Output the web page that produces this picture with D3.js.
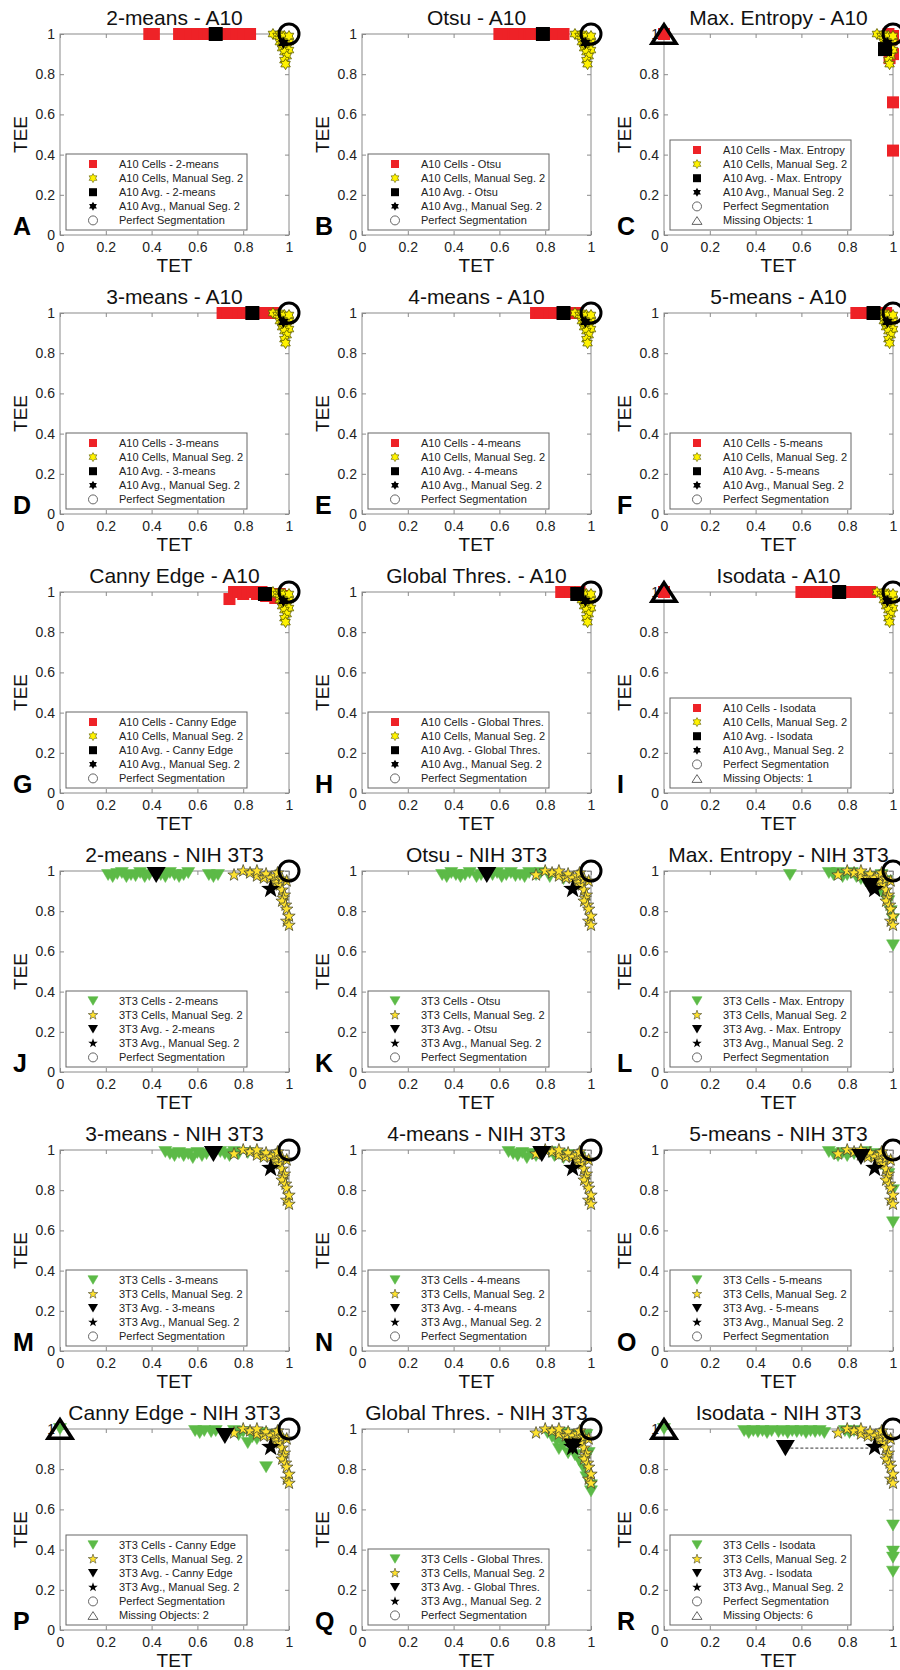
<!DOCTYPE html>
<html>
<head>
<meta charset="utf-8">
<script src="https://d3js.org/d3.v7.min.js"></script>
<style>
  body { margin: 0; background: #fff; }
  svg { font-family: "Liberation Sans", Arial, sans-serif; }
</style>
</head>
<body>
<script>

// ---------- data ----------
var methods = ["2-means", "Otsu", "Max. Entropy", "3-means", "4-means", "5-means", "Canny Edge", "Global Thres.", "Isodata"];
var letters = ["A","B","C","D","E","F","G","H","I","J","K","L","M","N","O","P","Q","R"];
var ticks = [0, 0.2, 0.4, 0.6, 0.8, 1];
var tickLabels = ["0", "0.2", "0.4", "0.6", "0.8", "1"];

// manual segmentation 2 (same in every panel of a cell line)
var a10Manual = [[0.93,1.0],[0.95,0.99],[0.96,1.0],[0.97,0.98],[0.98,0.99],[0.99,0.97],[0.96,0.96],[0.98,0.95],[1.0,0.96],
  [0.97,0.93],[0.99,0.93],[1.0,0.92],[0.98,0.91],[0.99,0.89],[0.98,0.87],[0.985,0.85],[1.0,0.99],[0.97,0.95]];
var a10ManualAvg = [0.975, 0.955];

var t3Manual = [[0.76,0.98],[0.80,1.0],[0.83,0.99],[0.86,0.975],[0.86,1.0],[0.89,0.965],[0.9,0.985],[0.92,0.965],[0.94,0.95],
  [0.945,0.94],[0.96,0.93],[0.97,0.905],[0.98,0.88],[0.975,0.865],[0.97,0.85],[0.985,0.83],[0.99,0.81],[0.99,0.75],
  [1.0,0.775],[1.0,0.73],[0.94,0.975],[0.97,0.96],[0.99,0.95],[0.95,0.99]];
var t3ManualAvg = [0.92, 0.91];

// A10 cells, one array per method
var a10Cells2means = [[0.39,1],[0.41,1],[0.52,1],[0.54,1],[0.55,1],[0.57,1],[0.6,1],[0.62,1],[0.63,1],[0.65,1],[0.67,1],
  [0.7,1],[0.71,1],[0.73,1],[0.75,1],[0.77,1],[0.79,1],[0.8,1],[0.83,1]];
var a10CellsOtsu = [[0.6,1],[0.62,1],[0.64,1],[0.66,1],[0.67,1],[0.69,1],[0.71,1],[0.73,1],[0.74,1],[0.76,1],[0.78,1],
  [0.8,1],[0.82,1],[0.83,1],[0.85,1],[0.88,1]];
var a10CellsMaxEnt = [[0,1],[0.98,1],[1,0.99],[0.99,0.97],[0.97,0.95],[0.985,0.88],[1,0.9],[1,0.66],[1,0.42]];
var a10Cells3means = [[0.71,1],[0.73,1],[0.78,1],[0.8,1],[0.82,1],[0.86,1],[0.88,1],[0.9,1],[0.93,1]];
var a10Cells4means = [[0.76,1],[0.78,1],[0.82,1],[0.84,1],[0.9,1],[0.92,1],[0.94,1]];
var a10Cells5means = [[0.84,1],[0.86,1],[0.88,1],[0.9,1],[0.95,1],[0.97,1]];
var a10CellsCanny = [[0.74,0.965],[0.76,1],[0.78,1],[0.8,0.99],[0.82,1],[0.84,1],[0.86,0.99],[0.88,1],[0.9,0.98],
  [0.92,0.99],[0.94,0.97],[0.96,0.99],[0.98,0.98]];
var a10CellsGlobal = [[0.87,1],[0.89,1],[0.91,1],[0.93,1],[0.95,1]];
var a10CellsIsodata = [[0,1],[0.6,1],[0.62,1],[0.64,1],[0.67,1],[0.69,1],[0.71,1],[0.73,1],[0.75,1],[0.78,1],[0.8,1],
  [0.82,1],[0.84,1],[0.86,1],[0.88,1],[0.9,1]];
var a10Avg = [[0.68,1],[0.79,1],[0.965,0.925],[0.84,1],[0.88,1],[0.915,1],[0.895,0.99],[0.94,0.99],[0.765,1]];
var a10Missing = [0, 0, 1, 0, 0, 0, 0, 0, 1];

// NIH 3T3 cells, one array per method
var t3Cells2means = [[0.21,0.98],[0.23,0.97],[0.25,0.985],[0.27,0.99],[0.29,0.97],[0.31,0.98],[0.33,0.975],[0.35,0.99],
  [0.37,0.97],[0.39,0.98],[0.44,0.98],[0.46,0.97],[0.48,0.99],[0.5,0.98],[0.52,0.97],[0.54,0.98],[0.56,0.99],
  [0.65,0.98],[0.67,0.97],[0.69,0.98]];
var t3CellsOtsu = [[0.35,0.98],[0.37,0.97],[0.39,0.99],[0.41,0.98],[0.43,0.97],[0.45,0.98],[0.47,0.99],[0.5,0.97],
  [0.52,0.98],[0.57,0.98],[0.59,0.99],[0.61,0.97],[0.63,0.98],[0.65,0.99],[0.67,0.975],[0.69,0.98],[0.71,0.97],
  [0.73,0.99],[0.76,0.98],[0.78,0.99],[0.82,0.97],[0.88,0.96],[0.93,0.95]];
var t3CellsMaxEnt = [[0.55,0.98],[0.72,0.99],[0.74,0.98],[0.76,0.99],[0.78,0.97],[0.8,0.98],[0.82,0.99],[0.84,0.97],
  [0.86,0.96],[0.88,0.95],[0.9,0.97],[0.92,0.93],[0.94,0.9],[0.96,0.88],[0.98,0.85],[0.99,0.8],[1.0,0.76],[1.0,0.63],
  [0.97,0.95],[0.95,0.98]];
var t3Cells3means = [[0.46,0.99],[0.48,0.98],[0.5,0.97],[0.52,0.985],[0.54,0.97],[0.56,0.98],[0.58,0.96],[0.6,0.985],
  [0.62,0.97],[0.64,0.98],[0.7,0.99],[0.72,0.98],[0.74,0.97],[0.76,0.99],[0.78,0.98],[0.82,0.985],[0.88,0.97],[0.94,0.96]];
var t3Cells4means = [[0.64,0.99],[0.66,0.98],[0.68,0.97],[0.7,0.985],[0.72,0.96],[0.74,0.98],[0.76,0.97],[0.82,0.99],
  [0.84,0.97],[0.86,0.98],[0.88,0.96],[0.9,0.975],[0.95,0.96]];
var t3Cells5means = [[0.72,0.99],[0.74,0.98],[0.76,0.97],[0.78,0.985],[0.8,0.97],[0.83,0.98],[0.88,0.99],[0.9,0.97],
  [0.92,0.98],[0.95,0.93],[0.98,0.88],[1.0,0.8],[1.0,0.64]];
var t3CellsCanny = [[0,1],[0.59,0.99],[0.61,0.98],[0.63,0.99],[0.66,0.985],[0.68,0.99],[0.76,0.99],[0.78,0.97],
  [0.8,0.985],[0.82,0.93],[0.84,0.96],[0.86,0.95],[0.88,0.98],[0.9,0.81],[0.93,0.97],[0.95,0.95]];
var t3CellsGlobal = [[0.81,0.98],[0.83,0.96],[0.85,0.94],[0.86,0.9],[0.88,0.92],[0.88,0.98],[0.9,0.88],[0.91,0.95],
  [0.93,0.87],[0.94,0.97],[0.95,0.84],[0.96,0.93],[0.97,0.8],[0.98,0.76],[0.98,0.97],[0.99,0.88],[1.0,0.72],[1.0,0.69]];
var t3CellsIsodata = [[0,1],[0.35,0.99],[0.37,0.98],[0.39,0.99],[0.41,0.985],[0.43,0.99],[0.45,0.98],[0.47,0.99],
  [0.5,0.985],[0.52,0.99],[0.54,0.98],[0.56,0.99],[0.58,0.985],[0.6,0.99],[0.62,0.98],[0.64,0.99],[0.66,0.985],
  [0.68,0.99],[0.7,0.98],[0.79,0.99],[0.81,0.98],[0.83,0.99],[1.0,0.52],[1.0,0.39],[1.0,0.36],[1.0,0.29]];
var t3Avg = [[0.42,0.98],[0.545,0.98],[0.9,0.925],[0.67,0.98],[0.785,0.98],[0.86,0.965],[0.72,0.965],[0.92,0.913],[0.53,0.905]];
var t3Missing = [0, 0, 0, 0, 0, 0, 2, 0, 6];
var dashedPanels = [17];   // avg link drawn in panel R

var a10Cells = [a10Cells2means, a10CellsOtsu, a10CellsMaxEnt, a10Cells3means, a10Cells4means, a10Cells5means,
  a10CellsCanny, a10CellsGlobal, a10CellsIsodata];
var t3Cells = [t3Cells2means, t3CellsOtsu, t3CellsMaxEnt, t3Cells3means, t3Cells4means, t3Cells5means,
  t3CellsCanny, t3CellsGlobal, t3CellsIsodata];

// ---------- symbols ----------
var symSquare = { draw: function(ctx, s) { ctx.rect(-s/2, -s/2, s, s); } };
var symTriDown = { draw: function(ctx, s) {
  var h = s * 0.85;
  ctx.moveTo(-s/2, -h/2); ctx.lineTo(s/2, -h/2); ctx.lineTo(0, h/2); ctx.closePath();
} };
var symTriUp = { draw: function(ctx, s) {
  var h = s * 0.78;
  ctx.moveTo(-s/2, h/2); ctx.lineTo(s/2, h/2); ctx.lineTo(0, -h/2); ctx.closePath();
} };
var symCircle = { draw: function(ctx, s) { ctx.moveTo(s/2, 0); ctx.arc(0, 0, s/2, 0, 2 * Math.PI); } };
function starType(points, inner) {
  return { draw: function(ctx, s) {
    var r = s / 2;
    for (var i = 0; i < points * 2; i++) {
      var a = Math.PI * i / points - Math.PI / 2;
      var rr = i % 2 ? r * inner : r;
      if (i === 0) ctx.moveTo(rr * Math.cos(a), rr * Math.sin(a));
      else ctx.lineTo(rr * Math.cos(a), rr * Math.sin(a));
    }
    ctx.closePath();
  } };
}
var symStar = starType(5, 0.4);
var symHex = starType(6, 0.58);
function sym(type, size) { return d3.symbol().type(type).size(size)(); }

var RED = "#ee2227", GREEN = "#5cba47";

var styleA10 = {
  cell:   { d: sym(symSquare, 12), fill: RED, stroke: "none", sw: 0 },
  manual: { d: sym(symHex, 11), fill: "#fff200", stroke: "#5b5a00", sw: 0.8 },
  avg:    { d: sym(symSquare, 14), fill: "#000", stroke: "none", sw: 0 },
  mavg:   { d: sym(symHex, 12), fill: "#000", stroke: "none", sw: 0 },
  leg: [sym(symSquare, 8), sym(symHex, 9), sym(symSquare, 8), sym(symHex, 9)]
};
var style3T3 = {
  cell:   { d: sym(symTriDown, 13), fill: GREEN, stroke: GREEN, sw: 0.5 },
  manual: { d: sym(symStar, 13), fill: "#ffe22e", stroke: "#4a4a30", sw: 0.8 },
  avg:    { d: sym(symTriDown, 19), fill: "#000", stroke: "none", sw: 0 },
  mavg:   { d: sym(symStar, 20), fill: "#000", stroke: "none", sw: 0 },
  leg: [sym(symTriDown, 10), sym(symStar, 10), sym(symTriDown, 10), sym(symStar, 10)]
};

// ---------- layout ----------
var W = 229, H = 201;
var colLeft = [60, 362, 664];
var rowTop0 = 34, rowStep = 279;

var svg = d3.select("body").append("svg")
  .attr("width", 900)
  .attr("height", 1670);

d3.range(18).forEach(function(p) {
  var isA10 = p < 9;
  var m = p % 9;
  var col = p % 3, row = Math.floor(p / 3);
  var left = colLeft[col], top = rowTop0 + row * rowStep;
  var cells = isA10 ? a10Cells[m] : t3Cells[m];
  var manual = isA10 ? a10Manual : t3Manual;
  var avg = isA10 ? a10Avg[m] : t3Avg[m];
  var mavg = isA10 ? a10ManualAvg : t3ManualAvg;
  var missing = isA10 ? a10Missing[m] : t3Missing[m];
  var st = isA10 ? styleA10 : style3T3;
  var tag = isA10 ? "A10" : "3T3";

  var x = d3.scaleLinear().domain([0, 1]).range([left, left + W]);
  var y = d3.scaleLinear().domain([0, 1]).range([top + H, top]);

  var g = svg.append("g");

  // box
  g.append("rect")
    .attr("x", left).attr("y", top).attr("width", W).attr("height", H)
    .attr("fill", "none").attr("stroke", "#8a8a8a").attr("stroke-width", 1);

  // axes, ticks pointing inward
  var xb = g.append("g").attr("transform", "translate(0," + (top + H) + ")")
    .call(d3.axisBottom(x).tickValues(ticks).tickFormat(function(d, i) { return tickLabels[i]; })
      .tickSizeInner(-4).tickSizeOuter(0).tickPadding(7));
  var yl = g.append("g").attr("transform", "translate(" + left + ",0)")
    .call(d3.axisLeft(y).tickValues(ticks).tickFormat(function(d, i) { return tickLabels[i]; })
      .tickSizeInner(-4).tickSizeOuter(0).tickPadding(5));
  var xt = g.append("g").attr("transform", "translate(0," + top + ")")
    .call(d3.axisTop(x).tickValues(ticks).tickFormat("").tickSizeInner(-4).tickSizeOuter(0));
  var yr = g.append("g").attr("transform", "translate(" + (left + W) + ",0)")
    .call(d3.axisRight(y).tickValues(ticks).tickFormat("").tickSizeInner(-4).tickSizeOuter(0));
  [xb, yl, xt, yr].forEach(function(a) {
    a.attr("font-family", null).attr("font-size", 14);
    a.select(".domain").remove();
    a.selectAll("line").attr("stroke", "#8a8a8a");
    a.selectAll("text").attr("fill", "#222");
  });

  // titles and labels
  g.append("text").attr("x", left + W / 2).attr("y", top - 9)
    .attr("text-anchor", "middle").attr("font-size", 21).attr("fill", "#111")
    .text(methods[m] + " - " + (isA10 ? "A10" : "NIH 3T3"));
  g.append("text").attr("x", left + W / 2).attr("y", top + H + 37)
    .attr("text-anchor", "middle").attr("font-size", 19).attr("fill", "#111").text("TET");
  g.append("text").attr("transform", "translate(" + (left - 40) + "," + (top + H / 2) + ") rotate(-90)")
    .attr("text-anchor", "middle").attr("dominant-baseline", "central")
    .attr("font-size", 19).attr("fill", "#111").text("TEE");
  g.append("text").attr("x", left - 47).attr("y", top + H)
    .attr("font-size", 25).attr("font-weight", "bold").attr("fill", "#000").text(letters[p]);

  // marks
  function marks(data, s) {
    g.append("g").selectAll("path").data(data).join("path")
      .attr("transform", function(d) { return "translate(" + x(d[0]) + "," + y(d[1]) + ")"; })
      .attr("d", s.d).attr("fill", s.fill).attr("stroke", s.stroke).attr("stroke-width", s.sw);
  }
  marks(cells, st.cell);
  marks(manual, st.manual);
  if (dashedPanels.indexOf(p) >= 0) {
    g.append("line")
      .attr("x1", x(avg[0])).attr("y1", y(avg[1]))
      .attr("x2", x(mavg[0])).attr("y2", y(avg[1]))
      .attr("stroke", "#000").attr("stroke-width", 0.8).attr("stroke-dasharray", "3,2");
  }
  marks([avg], st.avg);
  marks([mavg], st.mavg);

  // perfect segmentation
  g.append("path").attr("transform", "translate(" + x(1) + "," + y(1) + ")")
    .attr("d", sym(symCircle, 20)).attr("fill", "none").attr("stroke", "#000").attr("stroke-width", 3);
  if (missing) {
    g.append("path").attr("transform", "translate(" + x(0) + "," + y(1) + ")")
      .attr("d", sym(symTriUp, 24)).attr("fill", "none").attr("stroke", "#000")
      .attr("stroke-width", 3.5).attr("stroke-linejoin", "miter");
  }

  // legend
  var entries = [
    tag + " Cells - " + methods[m],
    tag + " Cells, Manual Seg. 2",
    tag + " Avg. - " + methods[m],
    tag + " Avg., Manual Seg. 2",
    "Perfect Segmentation"
  ];
  if (missing) entries.push("Missing Objects: " + missing);
  var boxH = entries.length === 6 ? 90 : 76;
  var boxTop = top + H - 5 - boxH;
  var lg = g.append("g");
  lg.append("rect").attr("x", left + 6).attr("y", boxTop).attr("width", 181).attr("height", boxH)
    .attr("fill", "#fff").attr("stroke", "#666").attr("stroke-width", 1);
  var legStyles = [st.cell, st.manual, st.avg, st.mavg];
  entries.forEach(function(t, i) {
    var ly = boxTop + 10 + i * 14.1;
    var mk = lg.append("path").attr("transform", "translate(" + (left + 33) + "," + ly + ")");
    if (i < 4) {
      mk.attr("d", st.leg[i]).attr("fill", legStyles[i].fill)
        .attr("stroke", legStyles[i].stroke).attr("stroke-width", legStyles[i].sw ? 0.6 : 0);
    } else {
      mk.attr("d", i === 4 ? sym(symCircle, 9) : sym(symTriUp, 10))
        .attr("fill", "none").attr("stroke", "#555").attr("stroke-width", 0.9);
    }
    lg.append("text").attr("x", left + 59).attr("y", ly).attr("dy", "0.35em")
      .attr("font-size", 11).attr("fill", "#222").text(t);
  });
});

</script>
</body>
</html>
